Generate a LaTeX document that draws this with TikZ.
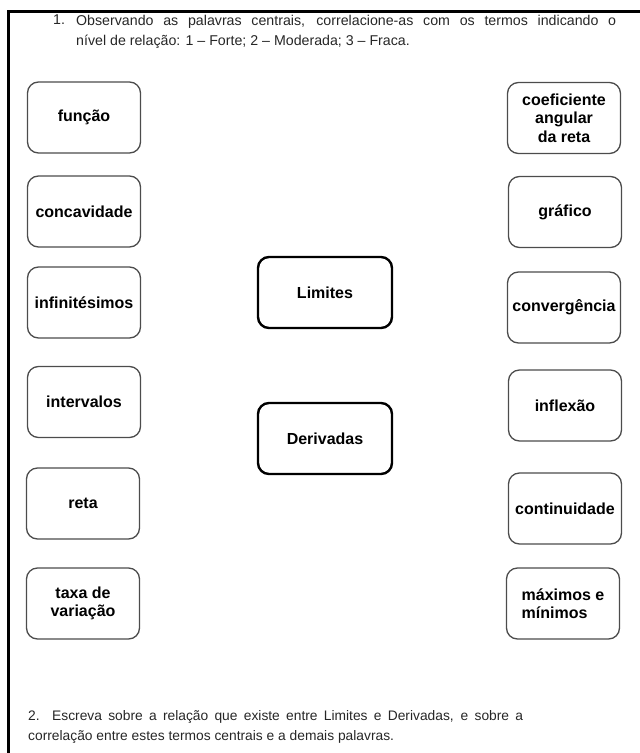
\documentclass[tikz,border=0pt]{standalone}
\usepackage{fontspec}
\setmainfont{Liberation Sans}

\begin{document}
\begin{tikzpicture}[x=1pt,y=-1pt]
    \tikzstyle{every node}=[font=\fontsize{16}{18.5}\selectfont\bfseries]
    \tikzstyle{termo}=[draw=black!70,line width=1.3pt,rounded corners=11pt,minimum width=113pt,minimum height=71pt,align=center,inner sep=1pt]
    \tikzstyle{central}=[termo,draw=black,line width=2.4pt,minimum width=134pt]
    \tikzstyle{enunciado}=[font=\fontsize{14.2}{20.5}\selectfont,anchor=north west,align=left,inner sep=0pt,text=black!85]
    \useasboundingbox (0,0) rectangle (640,753);
    \draw[line width=3pt] (8.5,753) -- (8.5,11) -- (640,11);

    \node[enunciado] (num1) at (53,15) {1.};
    \node[enunciado] (q1) at (76,15) {\makebox[540pt][s]{Observando as palavras centrais, correlacione-as com os termos indicando o}\\n\'ivel de relação: 1 -- Forte; 2 -- Moderada; 3 -- Fraca.};

    \node[termo] (funcao) at (84,117.5) {função};
    \node[termo] (concavidade) at (84,211.5) {concavidade};
    \node[termo] (infinitesimos) at (84,302.5) {infinitésimos};
    \node[termo] (intervalos) at (84,402) {intervalos};
    \node[termo] (reta) at (83,503.5) {reta};
    \node[termo] (taxa) at (83,603.5) {taxa de\\variação};

    \node[central] (limites) at (325,292.5) {Limites};
    \node[central] (derivadas) at (325,438.5) {Derivadas};

    \node[termo] (coeficiente) at (564,118) {coeficiente\\angular\\da reta};
    \node[termo] (grafico) at (565,212) {gráfico};
    \node[termo] (convergencia) at (564,307.5) {convergência};
    \node[termo] (inflexao) at (565,405.5) {inflexão};
    \node[termo] (continuidade) at (565,508.5) {continuidade};
    \node[termo,align=left] (maximos) at (563,603.5) {máximos e\\mínimos};

    \node[enunciado,font=\fontsize{13.8}{20}\selectfont] (q2) at (28,710) {\makebox[495pt][s]{2. Escreva sobre a relação que existe entre Limites e Derivadas, e sobre a}\\correlação entre estes termos centrais e a demais palavras.};
\end{tikzpicture}
\end{document}
